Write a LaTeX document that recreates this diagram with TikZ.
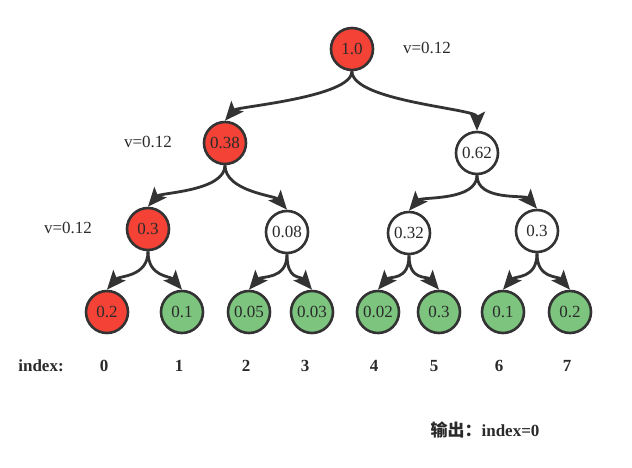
\documentclass[tikz,border=0pt]{standalone}
\usepackage{fontspec}
\setmainfont{Liberation Serif}
\newfontfamily\cjk{Noto Sans CJK SC}
\usetikzlibrary{arrows.meta}
\definecolor{nred}{HTML}{F44336}
\definecolor{ngreen}{HTML}{7DC57E}
\definecolor{edgec}{HTML}{333333}
\definecolor{txt}{HTML}{2A2A2A}
\begin{document}
\begin{tikzpicture}[x=1pt,y=-1pt,
  nd/.style={circle,draw=edgec,line width=2.6pt,minimum size=42pt,inner sep=0pt,
    font=\fontsize{17}{20}\selectfont,text=txt,fill=white},
  rednode/.style={nd,fill=nred},
  greennode/.style={nd,fill=ngreen},
  conn/.style={draw=edgec,line width=2.8pt,-{Stealth[length=19pt,width=16pt,inset=4pt]}},
  lab/.style={font=\fontsize{17}{20}\selectfont,text=txt},
  idx/.style={font=\bfseries\fontsize{17}{20}\selectfont,text=txt}]
\useasboundingbox (0,0) rectangle (632,467);
% nodes
\node[rednode] (r) at (352,49) {1.0};
\node[rednode] (a) at (225,143) {0.38};
\node[nd] (b) at (477,153) {0.62};
\node[rednode] (c) at (148,229) {0.3};
\node[nd] (d) at (287,232) {0.08};
\node[nd] (e) at (409,233) {0.32};
\node[nd] (f) at (537,231) {0.3};
\node[rednode] (l0) at (107,312) {0.2};
\node[greennode] (l1) at (182,312) {0.1};
\node[greennode] (l2) at (249,312) {0.05};
\node[greennode] (l3) at (312,312) {0.03};
\node[greennode] (l4) at (378,312) {0.02};
\node[greennode] (l5) at (439,312) {0.3};
\node[greennode] (l6) at (503,312) {0.1};
\node[greennode] (l7) at (570,312) {0.2};
% edges
\foreach \p/\q/\s in {r/a/1,a/c/1,a/d/-1,b/e/1,b/f/-1,c/l0/1,c/l1/-1,d/l2/1,d/l3/-1,e/l4/1,e/l5/-1,f/l6/1,f/l7/-1}{
  \draw[conn] (\p.south) .. controls +(0,26) and +(\s*12,-14) .. (\q.north);
}
\draw[conn] (r.south) .. controls +(0,30) and +(0,-22) .. (b.north);
% labels
\node[lab] (v1) at (427,48) {v=0.12};
\node[lab] (v2) at (148,142) {v=0.12};
\node[lab] (v3) at (68,228) {v=0.12};
% index row
\node[idx] (ix) at (41,366) {index:};
\node[idx] (i0) at (104,366) {0};
\node[idx] (i1) at (179,366) {1};
\node[idx] (i2) at (246,366) {2};
\node[idx] (i3) at (305,366) {3};
\node[idx] (i4) at (374,366) {4};
\node[idx] (i5) at (434,366) {5};
\node[idx] (i6) at (499,366) {6};
\node[idx] (i7) at (567,366) {7};
\node[idx] (out) at (485,430) {{\cjk\bfseries 输出：}index=0};
\end{tikzpicture}
\end{document}
